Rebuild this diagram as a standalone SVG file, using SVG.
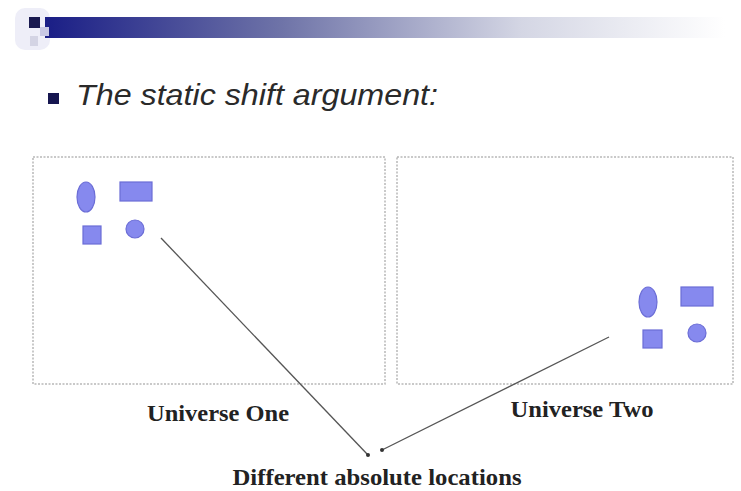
<svg xmlns="http://www.w3.org/2000/svg" width="741" height="491" viewBox="0 0 741 491">
<style>
.shape{fill:#8689ee;stroke:#6b6dd6;stroke-width:1.2}
.box{fill:#fff;stroke:#b8b8b8;stroke-width:1.5;stroke-dasharray:2 1.5}
.lbl{font-family:"Liberation Serif","Times New Roman",serif;font-weight:bold;font-size:23px;fill:#222;text-anchor:middle}
.conn{stroke:#555;stroke-width:1.3;fill:none;marker-end:url(#dot)}
</style>
<defs>
<linearGradient id="bar" x1="0" y1="0" x2="1" y2="0">
<stop offset="0" stop-color="#1a1e86"/>
<stop offset="0.35" stop-color="#6f74a8"/>
<stop offset="0.7" stop-color="#d4d6e4"/>
<stop offset="1" stop-color="#ffffff"/>
</linearGradient>
<marker id="dot" viewBox="0 0 6 6" refX="3" refY="3" markerWidth="4" markerHeight="4" markerUnits="userSpaceOnUse">
<circle cx="3" cy="3" r="3" fill="#333"/>
</marker>
</defs>
<rect width="741" height="491" fill="#fff"/>
<g id="header">
<rect x="15" y="8" width="35" height="42" rx="10" fill="#eeeef8"/>
<rect x="45" y="17" width="680" height="21" fill="url(#bar)"/>
<rect x="29" y="17" width="11" height="11" fill="#1a1a50"/>
<rect x="40" y="27" width="9" height="9" fill="#c8c8e4"/>
<rect x="30" y="36" width="8" height="10" fill="#d4d4e4"/>
</g>
<g id="title">
<rect x="48" y="93" width="11" height="11" fill="#161650"/>
<text x="76" y="105" font-family="'Liberation Sans',Arial,sans-serif" font-style="italic" font-size="30" fill="#2a2a2a" textLength="362" lengthAdjust="spacingAndGlyphs">The static shift argument:</text>
</g>
<g id="universe-one">
<rect class="box" x="33" y="157" width="352" height="227"/>
<ellipse class="shape" cx="86" cy="197" rx="9" ry="15"/>
<rect class="shape" x="120" y="182" width="32" height="19"/>
<rect class="shape" x="83" y="226" width="18" height="18"/>
<circle class="shape" cx="135" cy="229" r="9"/>
</g>
<g id="universe-two">
<rect class="box" x="397" y="157" width="336" height="227"/>
<ellipse class="shape" cx="648" cy="302" rx="9" ry="15"/>
<rect class="shape" x="681" y="287" width="32" height="19"/>
<rect class="shape" x="643" y="330" width="19" height="18"/>
<circle class="shape" cx="697" cy="333" r="9"/>
</g>
<g id="connectors">
<line class="conn" x1="161" y1="238" x2="368" y2="455"/>
<line class="conn" x1="609" y1="337" x2="382" y2="450"/>
</g>
<g id="labels">
<text class="lbl" x="218" y="421" textLength="142" lengthAdjust="spacingAndGlyphs">Universe One</text>
<text class="lbl" x="582" y="417" textLength="143" lengthAdjust="spacingAndGlyphs">Universe Two</text>
<text class="lbl" x="377" y="485" textLength="289" lengthAdjust="spacingAndGlyphs">Different absolute locations</text>
</g>
</svg>
